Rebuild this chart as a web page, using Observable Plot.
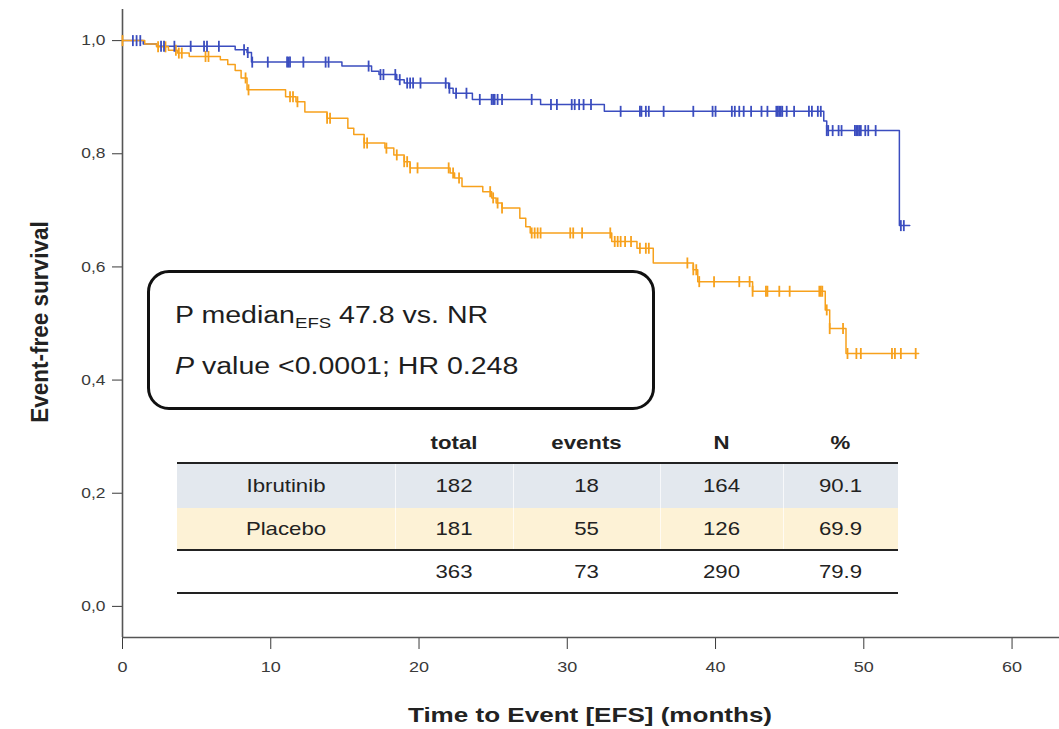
<!DOCTYPE html>
<html><head><meta charset="utf-8">
<script src="https://cdn.jsdelivr.net/npm/d3@7"></script>
<script src="https://cdn.jsdelivr.net/npm/@observablehq/plot@0.6"></script>
<style>
body{margin:0;background:#fff;font-family:"Liberation Sans",Arial,sans-serif;}
#wrap{position:relative;width:1059px;height:729px;overflow:hidden;}
#wrap svg{position:absolute;left:0;top:0;}
.abs{position:absolute;white-space:nowrap;}
</style></head><body><div id="wrap"></div>
<script>
// ---- data ----
const arms = ["Ibrutinib", "Placebo"];
const armColors = ["#3b4dbf", "#f7a11c"];

// Kaplan-Meier steps (time in months, survival after step)
const ibrTimes = [0, 1.4, 2.3, 7.6, 8.4, 8.7, 14.8, 16.8, 17.3, 18.5, 19.0, 22.0, 22.3, 23.6, 28.2, 32.5, 47.3, 47.5, 52.4, 53.1];
const ibrSurv  = [1.000, 0.994, 0.990, 0.984, 0.979, 0.962, 0.955, 0.946, 0.940, 0.931, 0.925, 0.916, 0.907, 0.896, 0.887, 0.875, 0.858, 0.841, 0.673, 0.673];

const plaTimes = [0, 1.5, 2.3, 3.1, 3.7, 4.5, 6.6, 7.1, 7.6, 8.0, 8.4, 11.0, 11.7, 12.3, 13.8, 15.2, 15.6, 16.3, 17.7, 18.3, 19.0, 19.4, 22.1, 22.4, 22.9, 24.3, 24.9, 25.2, 25.6, 26.8, 27.2, 27.5, 33.0, 34.7, 35.8, 38.5, 38.8, 42.5, 47.4, 47.7, 48.8, 53.7];
const plaSurv  = [1.000, 0.994, 0.989, 0.983, 0.978, 0.972, 0.966, 0.958, 0.947, 0.934, 0.913, 0.901, 0.892, 0.874, 0.863, 0.845, 0.834, 0.819, 0.810, 0.798, 0.786, 0.775, 0.766, 0.757, 0.742, 0.733, 0.722, 0.713, 0.704, 0.686, 0.671, 0.660, 0.645, 0.633, 0.607, 0.595, 0.574, 0.557, 0.524, 0.491, 0.447, 0.447];

// censoring times (months)
const ibrCens = [0.7, 0.95, 1.2, 2.6, 2.8, 3.5, 4.6, 5.5, 5.7, 6.5, 8.2, 8.45, 8.75, 9.8, 11.1, 11.2, 11.3, 12.2, 13.7, 13.9, 16.6, 17.4, 17.6, 18.4, 18.7, 19.2, 19.4, 19.6, 20.1, 21.8, 22.05, 22.5, 23.2, 24.1, 24.9, 25.0, 25.1, 25.3, 25.6, 27.6, 28.9, 29.3, 30.3, 30.5, 30.8, 31.1, 31.6, 33.6, 34.9, 35.0, 35.3, 35.5, 36.5, 38.5, 39.8, 40.0, 41.1, 41.3, 41.6, 41.9, 42.4, 43.1, 43.5, 44.1, 44.2, 44.3, 44.4, 44.5, 44.8, 45.3, 46.3, 46.5, 46.9, 47.1, 47.5, 47.6, 47.9, 48.3, 48.5, 49.4, 49.5, 49.6, 49.7, 49.8, 50.1, 50.3, 50.8, 52.5, 52.7];
const plaCens = [0, 2.4, 2.9, 3.6, 3.8, 4.0, 5.6, 5.8, 8.3, 8.5, 11.3, 11.5, 11.8, 13.8, 14.0, 16.3, 16.5, 17.8, 18.5, 19.0, 19.2, 19.4, 19.9, 22.0, 22.3, 22.7, 24.8, 25.0, 25.3, 25.6, 27.6, 27.8, 28.0, 28.2, 30.2, 30.4, 31.0, 32.9, 33.2, 33.4, 33.6, 33.9, 34.3, 34.9, 35.3, 35.5, 38.1, 38.5, 38.7, 38.9, 39.9, 41.6, 42.3, 42.5, 43.4, 43.5, 44.3, 45.0, 47.0, 47.1, 47.2, 47.5, 47.7, 48.6, 48.9, 49.5, 49.8, 51.9, 52.1, 52.5, 53.5];

const xTicks = [0, 10, 20, 30, 40, 50, 60];
const yTicks = [0, 0.2, 0.4, 0.6, 0.8, 1.0];
const xTitle = "Time to Event [EFS] (months)";
const yTitle = "Event-free survival";

// summary table
const tableHeader = ["", "total", "events", "N", "%"];
const tableLabels = ["Ibrutinib", "Placebo", ""];
const tableTotal  = [182, 181, 363];
const tableEvents = [18, 55, 73];
const tableN      = [164, 126, 290];
const tablePct    = ["90.1", "69.9", "79.9"];

// annotation
const medianText = ["P median", "EFS", " 47.8 vs. NR"];
const pText = ["P", " value <0.0001; HR 0.248"];

// ---- build ----
function stepVal(times, surv, t) {
  let v = surv[0];
  for (let i = 0; i < times.length; i++) if (times[i] <= t) v = surv[i];
  return v;
}
const lineRows = [];
ibrTimes.forEach((t, i) => lineRows.push({arm: arms[0], t, s: ibrSurv[i]}));
plaTimes.forEach((t, i) => lineRows.push({arm: arms[1], t, s: plaSurv[i]}));
const censRows = [];
ibrCens.forEach(t => censRows.push({arm: arms[0], t, s: stepVal(ibrTimes, ibrSurv, t)}));
plaCens.forEach(t => censRows.push({arm: arms[1], t, s: stepVal(plaTimes, plaSurv, t)}));

const yDom = [-0.055, 1.055];
const tickSym = {draw(ctx) { ctx.moveTo(0, -5.5); ctx.lineTo(0, 5.5); }};

const svg = Plot.plot({
  width: 1059, height: 729,
  marginLeft: 122, marginRight: 0, marginTop: 9, marginBottom: 92,
  x: {domain: [0, 63.2]},
  y: {domain: yDom},
  color: {domain: arms, range: armColors},
  style: {fontFamily: "Liberation Sans, Arial, sans-serif", background: "white", color: "#333"},
  marks: [
    Plot.axisY({ticks: yTicks, tickFormat: d => d.toFixed(1).replace(".", ","), tickSize: 10, tickPadding: 7, fontSize: 14.5, label: null, color: "#3a3a3a"}),
    Plot.axisX({ticks: xTicks, tickSize: 12, tickPadding: 12, fontSize: 15, label: null, color: "#3a3a3a"}),
    Plot.ruleX([0], {stroke: "#555", strokeWidth: 1.6}),
    Plot.ruleY([yDom[0]], {stroke: "#555", strokeWidth: 1.6}),
    Plot.line(lineRows.filter(d => d.arm === arms[0]), {x: "t", y: "s", stroke: "arm", curve: "step-after", strokeWidth: 1.5}),
    Plot.line(lineRows.filter(d => d.arm === arms[1]), {x: "t", y: "s", stroke: "arm", curve: "step-after", strokeWidth: 1.5}),
    Plot.dot(censRows.filter(d => d.arm === arms[1]), {x: "t", y: "s", stroke: "arm", symbol: tickSym, fill: "none", strokeWidth: 1.8}),
    Plot.dot(censRows.filter(d => d.arm === arms[0]), {x: "t", y: "s", stroke: "arm", symbol: tickSym, fill: "none", strokeWidth: 1.8})
  ]
});
// horizontal stretch of the tick labels, as in the reference
d3.select(svg).selectAll("text").each(function() {
  const tr = this.getAttribute("transform") || "";
  this.setAttribute("transform", tr + " scale(1.2,1)");
});
const wrap = document.getElementById("wrap");
wrap.appendChild(svg);

function addDiv(html, css) {
  const d = document.createElement("div");
  d.className = "abs";
  d.innerHTML = html;
  Object.assign(d.style, css);
  wrap.appendChild(d);
  return d;
}
// axis titles
addDiv(xTitle, {left: "390px", top: "703px", width: "400px", textAlign: "center", fontSize: "21px", fontWeight: "bold", color: "#222", transform: "scaleX(1.24)", transformOrigin: "center"});
addDiv(yTitle, {left: "-160px", top: "310px", width: "400px", textAlign: "center", fontSize: "22.5px", fontWeight: "bold", color: "#222", lineHeight: "24px", transform: "scaleX(1.08) rotate(-90deg)", transformOrigin: "center"});

// annotation box
addDiv("", {left: "147px", top: "270px", width: "502px", height: "134px", border: "3.5px solid #111", borderRadius: "22px", background: "white"});
addDiv(medianText[0] + "<sub style='font-size:15px;vertical-align:-5px'>" + medianText[1] + "</sub>" + medianText[2],
  {left: "175px", top: "300px", fontSize: "23px", color: "#1e1e1e", transform: "scaleX(1.24)", transformOrigin: "left", lineHeight: "30px"});
addDiv("<i>" + pText[0] + "</i>" + pText[1],
  {left: "175px", top: "351px", fontSize: "23px", color: "#1e1e1e", transform: "scaleX(1.24)", transformOrigin: "left", lineHeight: "30px"});

// table
const colEdges = [177, 395, 513, 660, 783, 898];
const rowTops = [422, 463, 508, 550, 593];
const rowBg = ["#e3e8ee", "#fdf2d6", "white"];
for (let r = 0; r < 2; r++) {
  addDiv("", {left: colEdges[0] + "px", top: rowTops[r + 1] + "px", width: (colEdges[5] - colEdges[0]) + "px", height: (rowTops[r + 2] - rowTops[r + 1]) + "px", background: rowBg[r]});
  for (let c = 1; c < 5; c++) addDiv("", {left: colEdges[c] + "px", top: rowTops[r + 1] + "px", width: "1px", height: (rowTops[r + 2] - rowTops[r + 1]) + "px", background: "rgba(255,255,255,0.7)"});
}
[[463, 1.5], [550, 2], [593, 1.5]].forEach(([y, w]) => addDiv("", {left: colEdges[0] + "px", top: (y - w / 2) + "px", width: (colEdges[5] - colEdges[0]) + "px", height: w + "px", background: "#222"}));
function cell(text, r, c, bold) {
  addDiv(String(text), {left: colEdges[c] + "px", top: rowTops[r] + "px", width: (colEdges[c + 1] - colEdges[c]) + "px", height: (rowTops[r + 1] - rowTops[r]) + "px",
    lineHeight: (rowTops[r + 1] - rowTops[r]) + "px", textAlign: "center", fontSize: "18.5px", fontWeight: bold ? "bold" : "normal", color: "#222", transform: "scaleX(1.2)", transformOrigin: "center"});
}
tableHeader.forEach((h, c) => { if (h) cell(h, 0, c, true); });
tableLabels.forEach((l, i) => {
  if (l) cell(l, i + 1, 0);
  cell(tableTotal[i], i + 1, 1);
  cell(tableEvents[i], i + 1, 2);
  cell(tableN[i], i + 1, 3);
  cell(tablePct[i], i + 1, 4);
});
</script></body></html>
